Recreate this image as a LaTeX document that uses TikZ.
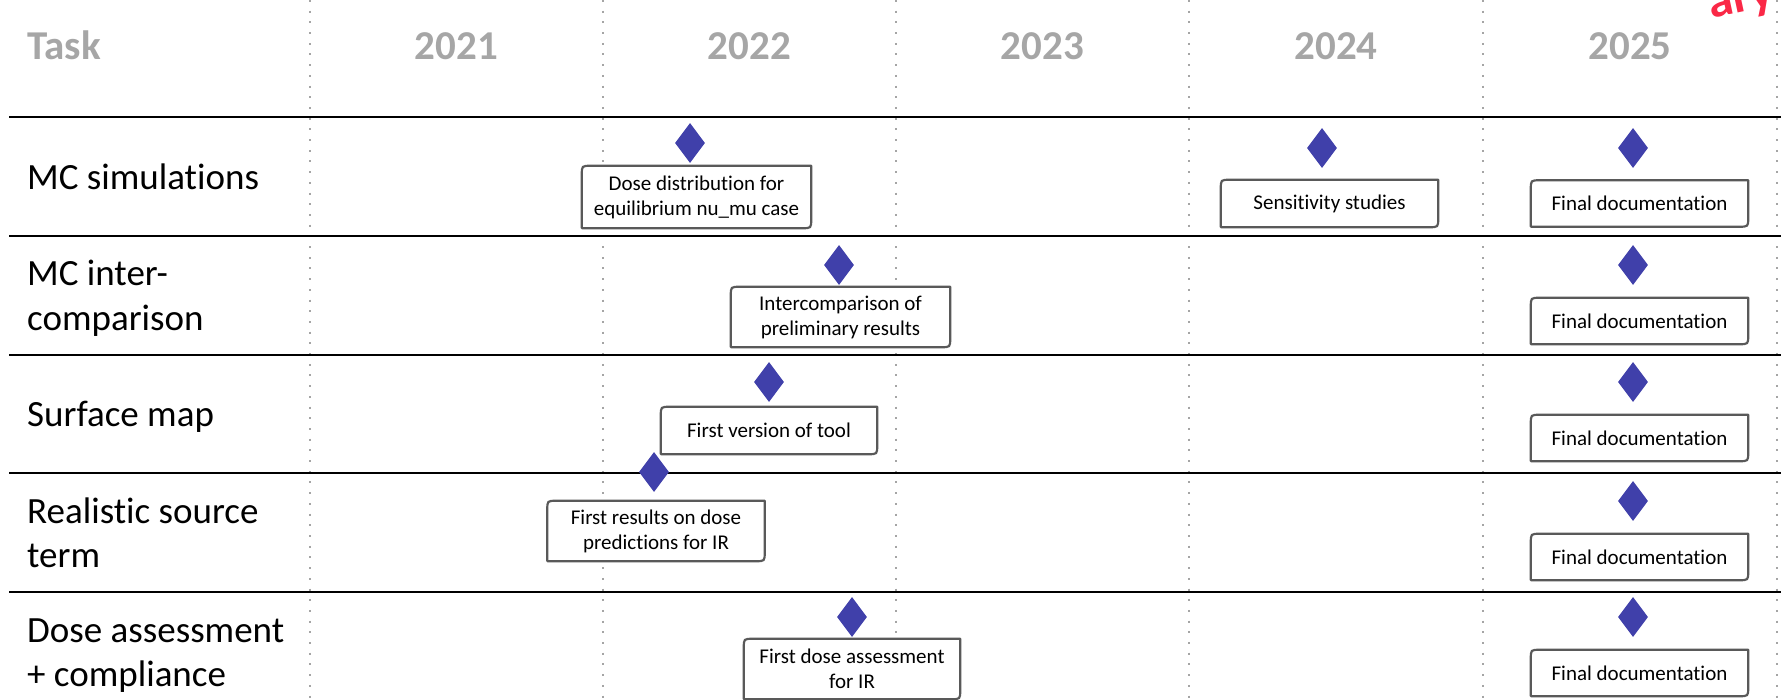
\documentclass[tikz,border=0pt]{standalone}
\usepackage{fontspec}
\setmainfont{Carlito}[Ligatures={NoCommon,NoContextual,NoRequired},RawFeature={-calt}]
\usetikzlibrary{shapes.geometric}
\definecolor{hdrgray}{RGB}{166,166,166}
\definecolor{dotgray}{RGB}{165,165,165}
\definecolor{msblue}{RGB}{64,64,170}
\definecolor{boxgray}{RGB}{89,89,89}
\definecolor{stampred}{RGB}{250,40,70}
\begin{document}
\begin{tikzpicture}[x=1pt,y=-1pt,
  hdr/.style={font=\fontsize{41}{49}\selectfont\bfseries, text=hdrgray, inner sep=0pt},
  rowlabel/.style={font=\fontsize{37}{44.5}\selectfont, anchor=base west, inner sep=0pt},
  gridv/.style={dotgray, line width=2pt, dash pattern=on 2pt off 8.7pt},
  gridh/.style={black, line width=2.6pt},
  milestone/.style={diamond, fill=msblue, draw=none, minimum width=30pt, minimum height=40pt, inner sep=0pt},
  taskbox/.style={font=\fontsize{21}{25}\selectfont, align=center, inner sep=0pt, fill=white},
  outline/.style={draw=boxgray, line width=2.2pt, line join=round}
]
\useasboundingbox (0,0) rectangle (1781,700);
\clip (0,0) rectangle (1781,700);

% grid
\foreach \x in {310,603,896,1189,1483,1777} \draw[gridv] (\x,0) -- (\x,700);
\foreach \y in {117,236,355,473,592} \draw[gridh] (9,\y) -- (1781,\y);

% header
\node[hdr, anchor=base west] (htask) at (27,60) {Task};
\node[hdr, anchor=base] (h21) at (456.5,60) {2021};
\node[hdr, anchor=base] (h22) at (749.5,60) {2022};
\node[hdr, anchor=base] (h23) at (1042.5,60) {2023};
\node[hdr, anchor=base] (h24) at (1336,60) {2024};
\node[hdr, anchor=base] (h25) at (1630,60) {2025};

% stamp (partly outside the picture)
\node[font=\fontsize{50}{56}\selectfont\bfseries, text=stampred, rotate=12, anchor=base west, inner sep=0pt] (stamp) at (1711,19) {ary};

% row labels
\node[rowlabel] (r1) at (27,189.5) {MC simulations};
\node[rowlabel] (r2) at (27,286) {\begin{tabular}[t]{@{}l@{}}MC inter-\\comparison\end{tabular}};
\node[rowlabel] (r3) at (27,427) {Surface map};
\node[rowlabel] (r4) at (27,523) {\begin{tabular}[t]{@{}l@{}}Realistic source\\term\end{tabular}};
\node[rowlabel] (r5) at (27,642) {\begin{tabular}[t]{@{}l@{}}Dose assessment\\+ compliance\end{tabular}};

% task boxes
\node[taskbox, minimum width=229pt, minimum height=62pt] (b1) at (696.5,197) {Dose distribution for\\equilibrium nu\_mu case};
\node[taskbox, minimum width=217pt, minimum height=47pt] (b2) at (1329.5,203.5) {Sensitivity studies};
\node[taskbox, minimum width=217pt, minimum height=46pt] (b3) at (1639.5,203.5) {Final documentation};
\node[taskbox, minimum width=219pt, minimum height=60pt] (b4) at (840.5,317) {Intercomparison of\\preliminary results};
\node[taskbox, minimum width=217pt, minimum height=46pt] (b5) at (1639.5,321) {Final documentation};
\node[taskbox, minimum width=216pt, minimum height=47pt] (b6) at (769,430.5) {First version of tool};
\node[taskbox, minimum width=217pt, minimum height=46pt] (b7) at (1639.5,438) {Final documentation};
\node[taskbox, minimum width=217pt, minimum height=60pt] (b8) at (656,531) {First results on dose\\predictions for IR};
\node[taskbox, minimum width=217pt, minimum height=46pt] (b9) at (1639.5,557) {Final documentation};
\node[taskbox, minimum width=216pt, minimum height=60pt] (b10) at (852,669) {First dose assessment\\for IR};
\node[taskbox, minimum width=217pt, minimum height=46pt] (b11) at (1639.5,673) {Final documentation};

\foreach \n in {b1,b2,b3,b4,b5,b6,b7,b8,b9,b10,b11}{
  \draw[outline] ([yshift=-9pt]\n.north west) .. controls (\n.north west) .. ([xshift=9pt]\n.north west)
    -- (\n.north east) -- ([yshift=9pt]\n.south east) .. controls (\n.south east) .. ([xshift=-9pt]\n.south east)
    -- (\n.south west) -- cycle;
}

% milestones
\node[milestone] (m1) at (690,143) {};
\node[milestone] (m2) at (1322,148) {};
\node[milestone] (m3) at (1633,148) {};
\node[milestone] (m4) at (839,265) {};
\node[milestone] (m5) at (1633,265) {};
\node[milestone] (m6) at (769,382) {};
\node[milestone] (m7) at (1633,382) {};
\node[milestone] (m8) at (654,472) {};
\node[milestone] (m9) at (1633,501) {};
\node[milestone] (m10) at (852,617) {};
\node[milestone] (m11) at (1633,617) {};
\end{tikzpicture}
\end{document}
